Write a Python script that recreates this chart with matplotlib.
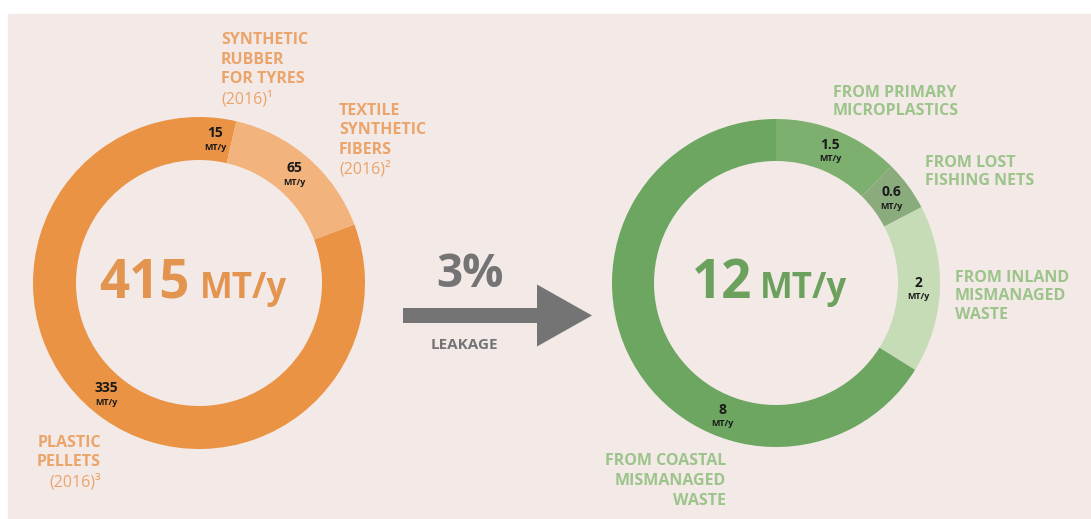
import numpy as np
import matplotlib.pyplot as plt
from matplotlib.patches import Rectangle, FancyArrow

# production (left ring) and leakage (right ring), MT/y
prod_values = [15, 65, 335]
prod_labels = ["15", "65", "335"]
prod_colors = ["#EA9345", "#F2B47C", "#EA9344"]
prod_total = "415"

leak_values = [1.5, 0.6, 2, 8]
leak_labels = ["1.5", "0.6", "2", "8"]
leak_colors = ["#7DAF6F", "#8AAC7D", "#C6DCB6", "#6CA660"]
leak_total = "12"

leak_pct = "3%"

H = 519
plt.rcParams["font.family"] = ["Open Sans", "DejaVu Sans"]

fig = plt.figure(figsize=(10.91, 5.19), dpi=100)
ax = fig.add_axes([0, 0, 1, 1])

bg = "#F3E9E7"
ax.add_patch(Rectangle((8, 0), 1091 - 8, H - 14, color=bg, zorder=0))


def ring(values, labels, colors, cx, cy, r, w, nudge):
    ax.pie(values, colors=colors, startangle=90, counterclock=False,
           radius=r, center=(cx, H - cy),
           wedgeprops=dict(width=w, linewidth=0))
    total = sum(values)
    cum = np.cumsum(values) - np.array(values) / 2
    for i, lab in enumerate(labels):
        th = np.radians(360 * cum[i] / total + nudge.get(i, 0))
        rm = r - w / 2
        x = cx + rm * np.sin(th)
        y = H - cy + rm * np.cos(th)
        ax.text(x, y + 6, lab, ha="center", va="center", fontsize=10,
                fontweight="bold", color="#1a1a1a", zorder=5)
        ax.text(x, y - 8, "MT/y", ha="center", va="center", fontsize=6.5,
                fontweight="bold", color="#1a1a1a", zorder=5)


ring(prod_values, prod_labels, prod_colors, 199, 283, 166, 43, {2: 5})
ring(leak_values, leak_labels, leak_colors, 776, 283, 164, 42, {3: -39})

# centre totals
orange = "#E39550"
green = "#6BA05D"
ax.text(190, H - 298, prod_total, ha="right", va="baseline", fontsize=38,
        fontweight="bold", color=orange)
ax.text(200, H - 298, "MT/y", ha="left", va="baseline", fontsize=25,
        fontweight="bold", color=orange)
ax.text(752, H - 298, leak_total, ha="right", va="baseline", fontsize=38,
        fontweight="bold", color=green)
ax.text(760, H - 298, "MT/y", ha="left", va="baseline", fontsize=25,
        fontweight="bold", color=green)

# arrow
grey = "#747474"
ax.add_patch(FancyArrow(403, H - 315.5, 189, 0, width=15, head_width=62,
                        head_length=55, length_includes_head=True,
                        color=grey, linewidth=0))
ax.text(470, H - 287, leak_pct, ha="center", va="baseline", fontsize=33,
        fontweight="bold", color=grey)
ax.text(464, H - 345, "LEAKAGE", ha="center", va="center", fontsize=11,
        fontweight="bold", color=grey)

# outer labels
lab_or = "#EBA46A"
lab_gr = "#9CC48B"


def block(x, y, lines, color, ha="left", step=19.5, fs=11.5):
    for k, t in enumerate(lines):
        bold = not t.startswith("(")
        ax.text(x, H - y - k * step, t, ha=ha, va="top", fontsize=fs,
                fontweight="bold" if bold else "normal", color=color,
                linespacing=1)


block(221, 32, ["SYNTHETIC", "RUBBER", "FOR TYRES", "(2016)\u00b9"], lab_or)
block(339, 103, ["TEXTILE", "SYNTHETIC", "FIBERS", "(2016)\u00b2"], lab_or)
block(101, 435, ["PLASTIC", "PELLETS", "(2016)\u00b3"], lab_or, ha="right")

block(833, 85, ["FROM PRIMARY", "MICROPLASTICS"], lab_gr, step=18)
block(925, 155, ["FROM LOST", "FISHING NETS"], lab_gr, step=18)
block(955, 270, ["FROM INLAND", "MISMANAGED", "WASTE"], lab_gr, step=18.5)
block(726, 453, ["FROM COASTAL", "MISMANAGED", "WASTE"], lab_gr, ha="right",
      step=20)

ax.set_xlim(0, 1091)
ax.set_ylim(0, H)
ax.set_aspect("equal")
ax.axis("off")

fig.savefig("out.png", dpi=100, facecolor="white")
